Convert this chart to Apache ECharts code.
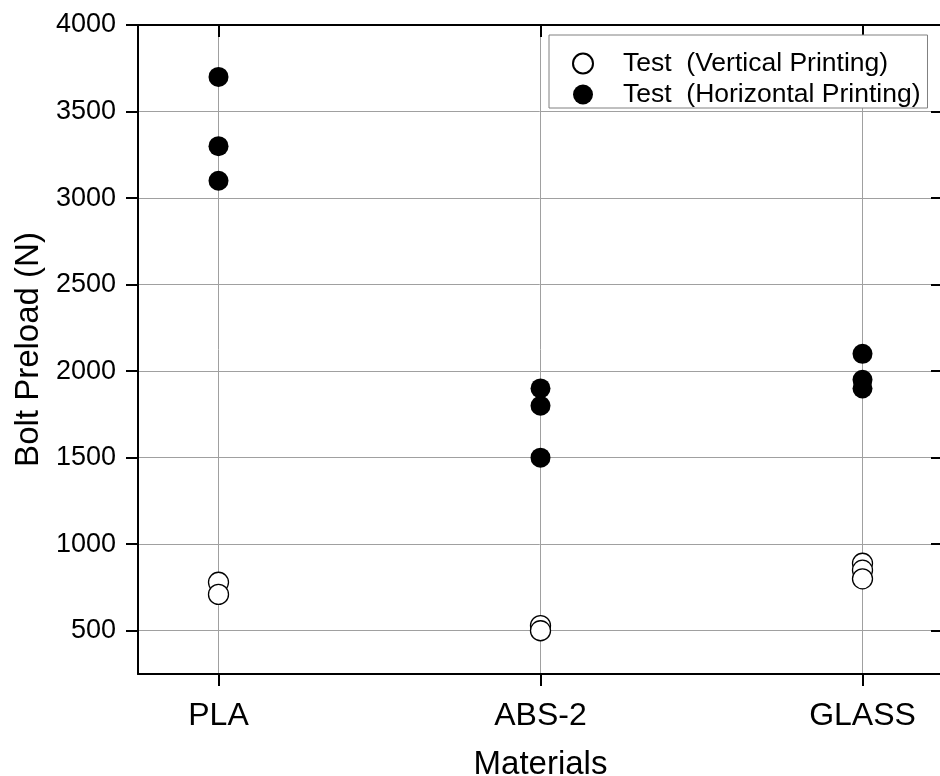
<!DOCTYPE html>
<html>
<head>
<meta charset="utf-8">
<script src="https://cdn.jsdelivr.net/npm/echarts@6/dist/echarts.min.js"></script>
<style>
html,body{margin:0;padding:0;background:#fff;}
#chart{width:940px;height:776px;}
</style>
</head>
<body>
<div id="chart"></div>
<script>
// ---- data ----
const categories = ['PLA', 'ABS-2', 'GLASS'];
const categoryPositions = [1, 2, 3];
const yTicks = [500, 1000, 1500, 2000, 2500, 3000, 3500, 4000];
const verticalPrinting = [[780, 710], [530, 500], [890, 850, 800]];
const horizontalPrinting = [[3700, 3300, 3100], [1900, 1800, 1500], [2100, 1950, 1900]];
const seriesNames = ['Test  (Vertical Printing)', 'Test  (Horizontal Printing)'];
const xName = 'Materials';
const yName = 'Bolt Preload (N)';

function toPoints(groups) {
  const pts = [];
  groups.forEach((vals, i) => vals.forEach(v => pts.push([categoryPositions[i], v])));
  return pts;
}

const FONT = '"Liberation Sans", Arial, sans-serif';
const chart = echarts.init(document.getElementById('chart'), null, {renderer: 'canvas'});

const axisLineStyle = {color: '#000', width: 2};
const gridLine = {show: true, lineStyle: {color: '#a0a0a0', width: 1}};

chart.setOption({
  animation: false,
  backgroundColor: '#fff',
  grid: {left: 138, top: 25, width: 805, height: 649, containLabel: false, outerBoundsMode: 'none'},
  legend: {
    orient: 'vertical',
    left: 549, top: 35,
    backgroundColor: '#fff',
    borderColor: '#808080',
    borderWidth: 1,
    borderRadius: 0,
    padding: [15, 7, 0, 23],
    itemWidth: 20, itemHeight: 20,
    itemGap: 4,
    textStyle: {fontFamily: FONT, fontSize: 26.5, color: '#000', lineHeight: 26, padding: [0, 0, 0, 25]},
    data: seriesNames
  },
  xAxis: [{
    type: 'value', position: 'bottom', min: 0.75, max: 3.25,
    name: xName, nameLocation: 'middle', nameGap: 74,
    nameTextStyle: {fontFamily: FONT, fontSize: 33, color: '#000'},
    axisLine: {show: true, onZero: false, lineStyle: axisLineStyle},
    axisTick: {show: true, inside: false, length: 12, lineStyle: {color: '#000', width: 2}, customValues: categoryPositions},
    axisLabel: {show: true, margin: 26, fontFamily: FONT, fontSize: 32, color: '#000', customValues: categoryPositions,
      formatter: v => categories[categoryPositions.indexOf(v)] || ''},
    splitLine: gridLine
  }, {
    type: 'value', position: 'top', min: 0.75, max: 3.25,
    axisLine: {show: true, onZero: false, lineStyle: axisLineStyle},
    axisTick: {show: true, inside: true, length: 12, lineStyle: {color: '#000', width: 2}, customValues: categoryPositions},
    axisLabel: {show: false},
    splitLine: {show: false}
  }],
  yAxis: [{
    type: 'value', position: 'left', min: 250, max: 4000,
    name: yName, nameLocation: 'middle', nameGap: 82, nameRotate: 90,
    nameTextStyle: {fontFamily: FONT, fontSize: 33, color: '#000'},
    axisLine: {show: true, onZero: false, lineStyle: axisLineStyle},
    axisTick: {show: true, inside: false, length: 12, lineStyle: {color: '#000', width: 2}, customValues: yTicks},
    axisLabel: {show: true, margin: 22, fontFamily: FONT, fontSize: 27, color: '#000', customValues: yTicks,
      formatter: v => String(v)},
    splitLine: gridLine
  }, {
    type: 'value', position: 'right', min: 250, max: 4000,
    axisLine: {show: true, onZero: false, lineStyle: axisLineStyle},
    axisTick: {show: true, inside: true, length: 12, lineStyle: {color: '#000', width: 2}, customValues: yTicks},
    axisLabel: {show: false},
    splitLine: {show: false}
  }],
  series: [{
    name: seriesNames[0], type: 'scatter', xAxisIndex: 0, yAxisIndex: 0,
    symbol: 'circle', symbolSize: 20,
    itemStyle: {color: '#fff', borderColor: '#000', borderWidth: 1.3, opacity: 1},
    data: toPoints(verticalPrinting), z: 3
  }, {
    name: seriesNames[1], type: 'scatter', xAxisIndex: 0, yAxisIndex: 0,
    symbol: 'circle', symbolSize: 20,
    itemStyle: {color: '#000', borderColor: '#000', borderWidth: 0, opacity: 1},
    data: toPoints(horizontalPrinting), z: 3
  }]
});
</script>
</body>
</html>
